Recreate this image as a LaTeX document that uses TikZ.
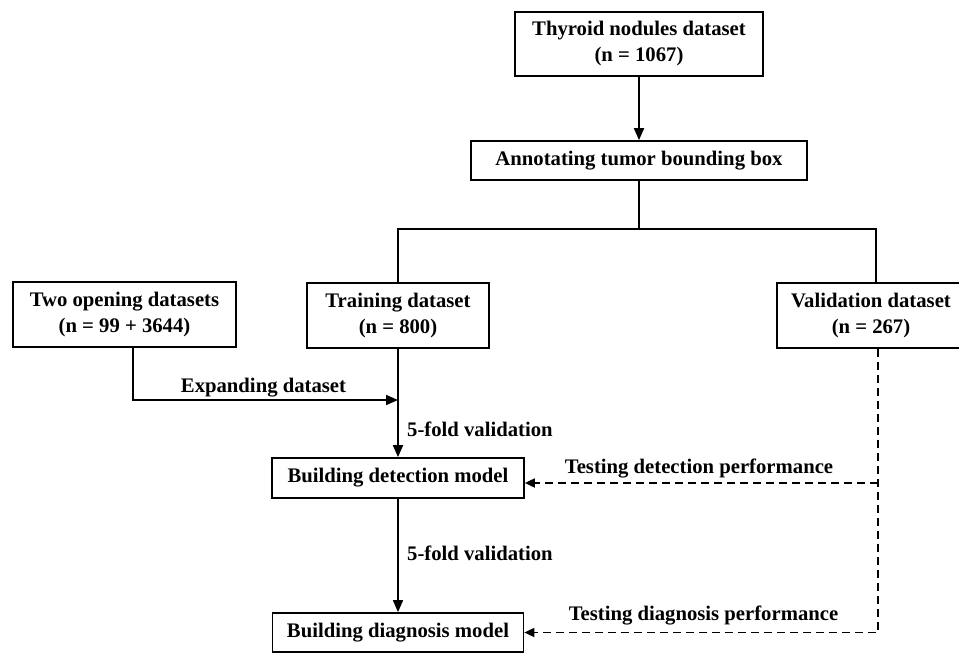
\documentclass[tikz,border=0pt]{standalone}
\usepackage{fontspec}
\setmainfont{Liberation Serif}
\usetikzlibrary{arrows.meta}
\begin{document}
\begin{tikzpicture}[x=1pt,y=-1pt,
  box/.style={draw, line width=1.7pt, inner sep=0pt, align=center, font=\fontsize{20.7}{26}\selectfont\bfseries},
  lbl/.style={inner sep=0pt, font=\fontsize{20.7}{26}\selectfont\bfseries},
  conn/.style={line width=1.7pt},
  arr/.style={line width=1.7pt, -{Triangle[length=12pt,width=10pt]}},
  darr/.style={line width=1.7pt, dash pattern=on 8pt off 5pt, -{Triangle[length=10pt,width=9pt]}},
]
\useasboundingbox (0,0) rectangle (959,656);
\node[box, minimum width=248pt, minimum height=64pt] (thy) at (639,44) {Thyroid nodules dataset\\(n = 1067)};
\node[box, minimum width=336pt, minimum height=39pt] (ann) at (639,160.5) {Annotating tumor bounding box};
\node[box, minimum width=223pt, minimum height=65pt] (open) at (124.5,314.5) {Two opening datasets\\(n = 99 + 3644)};
\node[box, minimum width=182pt, minimum height=65pt] (train) at (398,315.5) {Training dataset\\(n = 800)};
\node[box, minimum width=188pt, minimum height=65pt] (val) at (871,315.5) {Validation dataset\\(n = 267)};
\node[box, minimum width=252pt, minimum height=40pt] (det) at (398,478) {Building detection model};
\node[box, minimum width=251pt, minimum height=39pt] (diag) at (398,632.5) {Building diagnosis model};

\coordinate (brR) at (876,229);
\coordinate (oc) at (133,400);
\coordinate (vd) at (878,483);
\coordinate (vg) at (878,632.5);

\draw[arr] (thy) -- (ann);
\draw[conn] (ann.south) -- (ann.south |- brR);
\draw[conn] (train.north) |- (brR) -- (brR |- val.north);
\draw[arr] (open.south -| oc) -- (oc) -- (train.south |- oc);
\draw[arr] (train) -- (det);
\draw[arr] (det) -- (diag);
\draw[darr] (val.south -| vd) -- (vg) -- (diag.east);
\draw[darr] (vd) -- (det.east |- vd);

\node[lbl] (exp) at (263.5,388) {Expanding dataset};
\node[lbl, anchor=west] (fv1) at (407,429) {5-fold validation};
\node[lbl, anchor=west] (fv2) at (407,553) {5-fold validation};
\node[lbl] (tdet) at (699,468) {Testing detection performance};
\node[lbl] (tdia) at (703.5,615) {Testing diagnosis performance};
\end{tikzpicture}
\end{document}
